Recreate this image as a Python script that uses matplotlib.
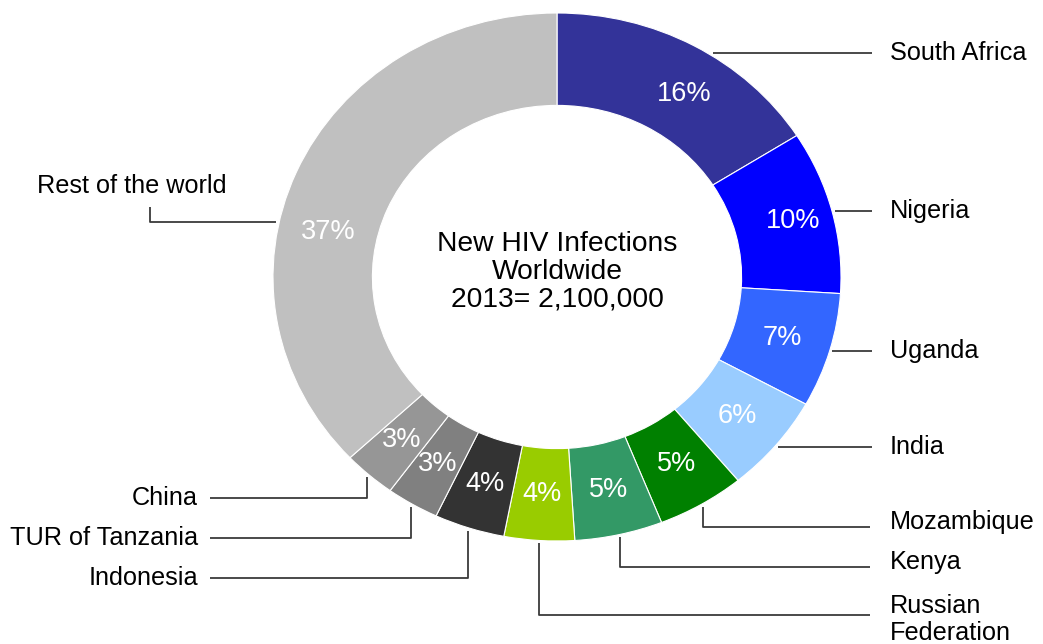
import matplotlib.pyplot as plt
import numpy as np

plt.rcParams['font.family'] = ['Liberation Sans', 'DejaVu Sans']

# data
countries = ["South Africa", "Nigeria", "Uganda", "India", "Mozambique", "Kenya",
             "Russian\nFederation", "Indonesia", "TUR of Tanzania", "China",
             "Rest of the world"]
shares = [16, 10, 7, 6, 5, 5, 4, 4, 3, 3, 37]
colors = ["#333399", "#0000FF", "#3366FF", "#99CCFF", "#008000", "#339966",
          "#99CC00", "#333333", "#808080", "#969696", "#C0C0C0"]
center_text = "New HIV Infections\nWorldwide\n2013= 2,100,000"

# layout (pixels, measured from the top-left of the picture)
W, H = 1043, 644
cx, cy = 557, 277      # ring centre
rx, ry = 284, 264      # outer radius (ring is a bit wider than tall)
# how each leader line runs: side, y of the horizontal run (None = straight out)
leaders = ["right", "right", "right", "right", "right", "right", "right",
           "left", "left", "left", "rest"]
run_y = [None, None, None, None, 527, 567, 615, 578, 538, 498, None]
angle_override = {0: 57, 10: 168}


def px(x):
    return (x - cx) / rx


def py(y):
    return (cy - y) / ry


fig = plt.figure(figsize=(W / 100, H / 100), dpi=100)
ax = fig.add_axes([0, 0, 1, 1])
wedges, _ = ax.pie(shares, colors=colors, startangle=90, counterclock=False,
                   wedgeprops=dict(width=0.35, edgecolor='white', linewidth=0.8))
ax.set_aspect('auto')
ax.set_xlim(px(0), px(W))
ax.set_ylim(py(H), py(0))
ax.axis('off')

line_kw = dict(color='#3a3a3a', lw=1.3, solid_capstyle='butt')

for i, w in enumerate(wedges):
    ang = angle_override.get(i, (w.theta1 + w.theta2) / 2)
    a = np.deg2rad(ang)
    # percentage label
    r = 0.86 if i == 1 else 0.825
    ax.text(r * np.cos(a), r * np.sin(a), f"{shares[i]}%", color='white',
            fontsize=19.5, ha='center', va='center')
    # leader line from the outer edge
    x0, y0 = 1.01 * np.cos(a), 1.01 * np.sin(a)
    if leaders[i] == "right":
        if run_y[i] is None:
            ax.plot([x0, px(872)], [y0, y0], **line_kw)
            ty = y0
        else:
            ax.plot([x0, x0, px(870)], [y0, py(run_y[i]), py(run_y[i])], **line_kw)
            ty = py(run_y[i]) + (-0.017 if "\n" in countries[i] else 0.02)
        ax.text(px(890), ty, countries[i], fontsize=18.2, ha='left', va='center',
                linespacing=1.2)
    elif leaders[i] == "left":
        ax.plot([x0, x0, px(210)], [y0, py(run_y[i]), py(run_y[i])], **line_kw)
        ax.text(px(198), py(run_y[i]), countries[i], fontsize=18.2, ha='right',
                va='center')
    else:
        ax.plot([x0, px(150), px(150)], [y0, y0, py(207)], **line_kw)
        ax.text(px(132), py(186), countries[i], fontsize=18.2, ha='center',
                va='center')

ax.text(0, py(272), center_text, fontsize=20.3, ha='center', va='center',
        linespacing=1.1)

plt.savefig("out.png", dpi=100)
